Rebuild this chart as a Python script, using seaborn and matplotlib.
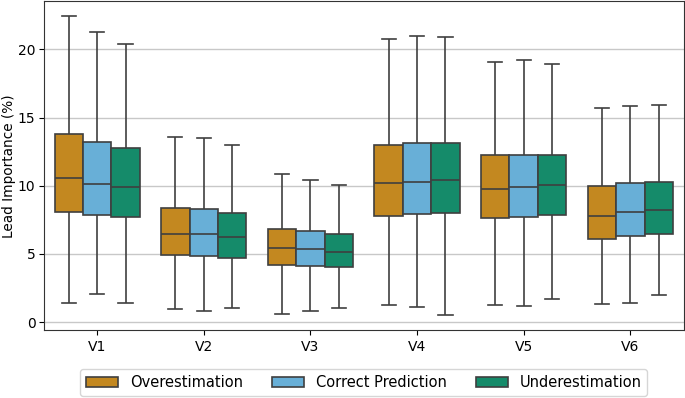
import matplotlib
matplotlib.use("Agg")
import matplotlib.pyplot as plt
import seaborn as sns
import pandas as pd

leads = ["V1", "V2", "V3", "V4", "V5", "V6"]
groups = ["Overestimation", "Correct Prediction", "Underestimation"]
colors = ["#DE8F05", "#56B4E9", "#029E73"]

# five-number summaries per lead: [min, q1, median, q3, max]
over = [
    [1.39, 8.08, 10.56, 13.83, 22.44],
    [0.98, 4.90, 6.47, 8.39, 13.56],
    [0.56, 4.17, 5.41, 6.83, 10.83],
    [1.22, 7.75, 10.17, 12.98, 20.78],
    [1.22, 7.64, 9.78, 12.22, 19.05],
    [1.35, 6.12, 7.81, 9.95, 15.68],
]
correct = [
    [2.08, 7.86, 10.12, 13.20, 21.27],
    [0.78, 4.81, 6.44, 8.27, 13.51],
    [0.78, 4.13, 5.34, 6.66, 10.44],
    [1.10, 7.93, 10.31, 13.12, 21.00],
    [1.17, 7.71, 9.90, 12.29, 19.22],
    [1.42, 6.34, 8.10, 10.17, 15.87],
]
under = [
    [1.42, 7.73, 9.88, 12.80, 20.39],
    [1.02, 4.68, 6.25, 8.02, 13.00],
    [1.02, 4.07, 5.17, 6.44, 10.02],
    [0.49, 7.97, 10.42, 13.12, 20.93],
    [1.68, 7.86, 10.02, 12.29, 18.95],
    [1.95, 6.47, 8.22, 10.27, 15.92],
]

rows = []
for g, series in zip(groups, [over, correct, under]):
    for lead, stats in zip(leads, series):
        for v in stats:
            rows.append({"Lead": lead, "Group": g, "Importance": v})
df = pd.DataFrame(rows)

plt.rcParams["font.family"] = ["DejaVu Sans"]
plt.rcParams["font.size"] = 10

fig, ax = plt.subplots(figsize=(6.85, 3.98), dpi=100)
ax.set_axisbelow(True)
ax.yaxis.grid(True, color="#c8c8c8", linewidth=1.0)

sns.boxplot(data=df, x="Lead", y="Importance", hue="Group", order=leads,
            hue_order=groups, palette=colors, whis=(0, 100), showfliers=False,
            linecolor="#3f3f3f", linewidth=1.2, ax=ax)

ax.set_xlabel("")
ax.set_ylabel("Lead Importance (%)", labelpad=1, fontsize=9.8)
ax.set_yticks([0, 5, 10, 15, 20])
ax.tick_params(axis="y", pad=2.5)
for s in ax.spines.values():
    s.set_color("#333333")

ax.legend(loc="upper center", bbox_to_anchor=(0.5, -0.095), ncol=3, frameon=True,
          fontsize=10.5, handlelength=2.2, columnspacing=2.0)

fig.subplots_adjust(left=0.064, right=0.998, top=0.997, bottom=0.17)
fig.savefig("out.png", dpi=100)
